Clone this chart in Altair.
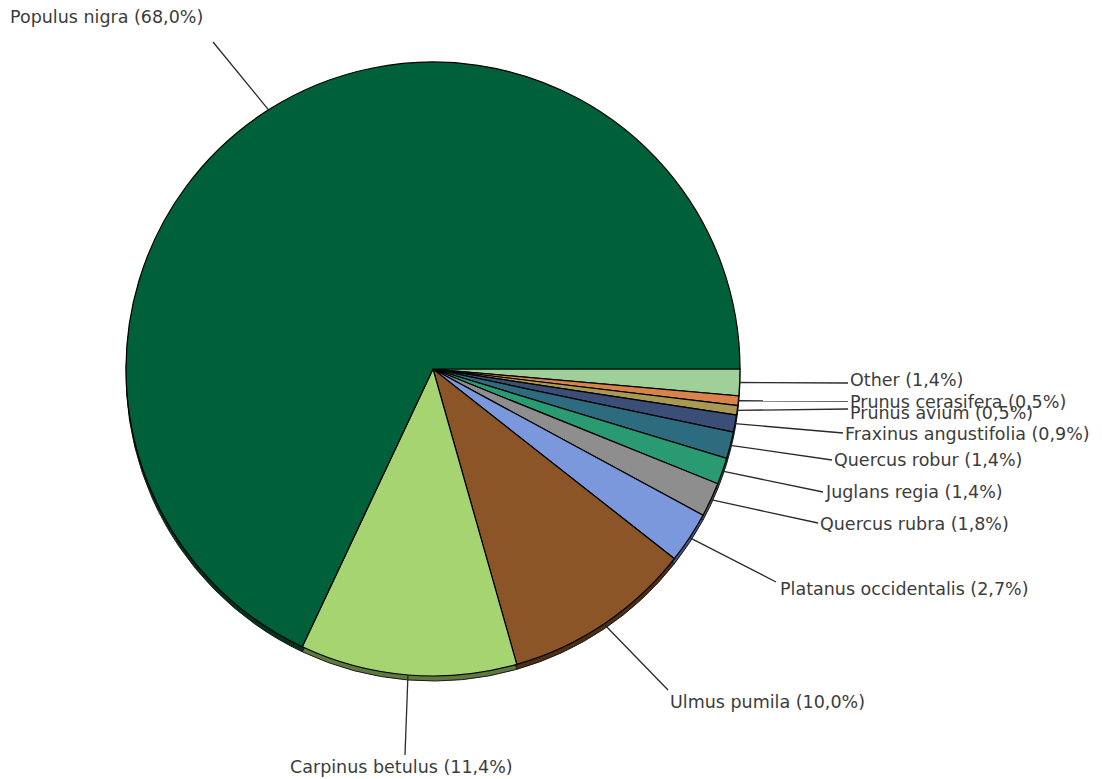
import math
import altair as alt
import pandas as pd

# ---- data (clockwise from 3 o'clock) ----
species = ["Other", "Prunus cerasifera", "Prunus avium", "Fraxinus angustifolia",
           "Quercus robur", "Juglans regia", "Quercus rubra", "Platanus occidentalis",
           "Ulmus pumila", "Carpinus betulus", "Populus nigra"]
shares = [1.4, 0.5, 0.5, 0.9, 1.4, 1.4, 1.8, 2.7, 10.0, 11.4, 68.0]
colors = ["#A0D09A", "#D9834A", "#A89A55", "#3A4E78", "#2C6C7E", "#2A9A72",
          "#8E8E8E", "#7B98DC", "#8B5527", "#A6D470", "#00603A"]
side_colors = ["#5E7E5A", "#7E4A28", "#5E5630", "#1E2A44", "#173E48", "#175A42",
               "#4E4E4E", "#44557E", "#4E2F15", "#5E7A40", "#003420"]

# ---- layout of labels (text anchor and leader-line end) ----
text_x = [850, 850, 850, 845, 834, 826, 820, 780, 670, 290, 10]
text_y = [381, 403, 414, 435, 461, 493, 525, 590, 703, 768, 18]
end_x = [848, 848, 848, 843, 832, 823, 818, 776, 668, 405, 213]
end_y = [383, 401, 409, 433, 460, 492, 523, 582, 690, 755, 42]

CX, CY, R = 433, 369, 307
W, H = 1102, 779

labels = [f"{s} ({str(v).replace('.', ',')}%)" for s, v in zip(species, shares)]
total = sum(shares)
cum = 0.0
start_x, start_y = [], []
for v in shares:
    mid = (cum + v / 2) / total * 2 * math.pi  # clockwise from 3 o'clock
    cum += v
    start_x.append(CX + R * math.cos(mid))
    start_y.append(CY + R * math.sin(mid))

df = pd.DataFrame({
    "idx": list(range(len(species))),
    "species": species,
    "share": shares,
    "label": labels,
    "fill": colors,
    "side": side_colors,
    "tx": text_x, "ty": text_y,
    "sx": start_x, "sy": start_y,
    "ex": end_x, "ey": end_y,
})

theta_scale = alt.Scale(range=[math.pi / 2, math.pi / 2 + 2 * math.pi])
base = alt.Chart(df)

side = base.mark_arc(radius=R, stroke="#1a1a1a", strokeWidth=1).encode(
    theta=alt.Theta("share:Q", stack=True, scale=theta_scale),
    order=alt.Order("idx:Q"),
    fill=alt.Fill("side:N", scale=None),
    x=alt.value(CX), y=alt.value(CY + 5),
)

pie = base.mark_arc(radius=R, stroke="#000000", strokeWidth=1.2).encode(
    theta=alt.Theta("share:Q", stack=True, scale=theta_scale),
    order=alt.Order("idx:Q"),
    fill=alt.Fill("fill:N", scale=None),
    x=alt.value(CX), y=alt.value(CY),
)

lines = base.mark_rule(color="#2a2a2a", strokeWidth=1.3).encode(
    x=alt.X("sx:Q", scale=None), y=alt.Y("sy:Q", scale=None),
    x2="ex:Q", y2="ey:Q",
)

texts = base.mark_text(align="left", baseline="middle", font="DejaVu Sans",
                       fontSize=17.5, color="#3c3c3c").encode(
    x=alt.X("tx:Q", scale=None), y=alt.Y("ty:Q", scale=None),
    text="label:N",
)

chart = alt.layer(side, pie, lines, texts).properties(
    width=W, height=H, padding=0, autosize=alt.AutoSizeParams(type="none"),
    background="white",
).configure_view(stroke=None)

chart.save("out.html", embed_options={"renderer": "svg", "actions": False})
